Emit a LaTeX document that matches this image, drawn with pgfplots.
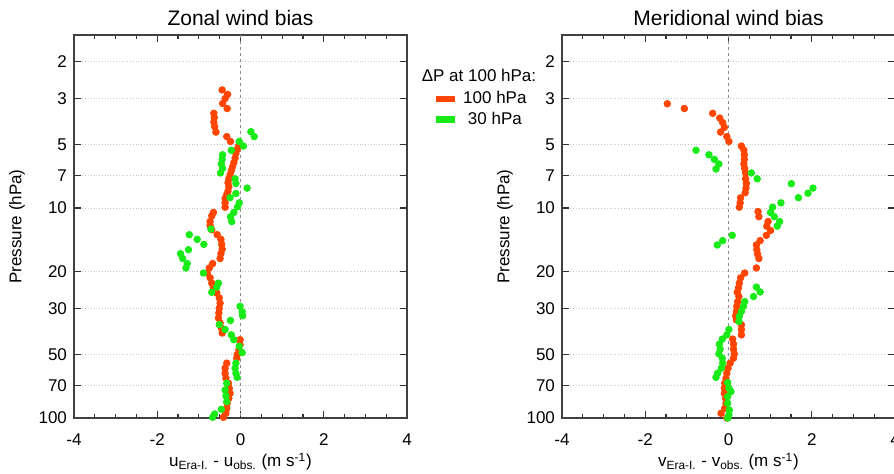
\documentclass[border=0pt]{standalone}
\usepackage{fontspec}
\setmainfont{Liberation Sans}
\usepackage{pgfplots}
\usepackage{pgfplotstable}
\pgfplotsset{compat=1.18}
\definecolor{cred}{RGB}{255,69,0}
\definecolor{cgreen}{RGB}{25,235,25}

\pgfplotstableread{
u P
-0.44 2.74
-0.31 2.88
-0.37 3.01
-0.43 3.18
-0.32 3.36
-0.64 3.54
-0.63 3.71
-0.64 3.90
-0.62 4.10
-0.59 4.35
-0.33 4.57
-0.24 4.82
-0.04 5.03
-0.08 5.26
-0.11 5.49
-0.13 5.79
-0.16 6.08
-0.19 6.36
-0.22 6.64
-0.25 6.94
-0.28 7.26
-0.30 7.58
-0.28 7.92
-0.30 8.31
-0.33 8.62
-0.37 9.01
-0.37 9.45
-0.37 9.91
-0.65 10.5
-0.69 10.9
-0.73 11.6
-0.73 12.1
-0.69 12.7
-0.56 13.4
-0.47 14.1
-0.45 14.9
-0.44 15.7
-0.47 16.5
-0.49 17.4
-0.67 18.4
-0.75 19.3
-0.80 20.4
-0.73 21.5
-0.69 22.8
-0.65 24.0
-0.57 25.4
-0.51 26.8
-0.49 28.4
-0.51 30.0
-0.52 31.6
-0.53 33.4
-0.49 35.3
-0.46 37.3
-0.44 39.4
-0.01 42.4
-0.01 44.8
-0.04 47.4
-0.08 50.0
-0.09 51.9
-0.33 54.8
-0.37 57.9
-0.37 61.2
-0.35 64.6
-0.29 68.3
-0.27 72.1
-0.25 76.2
-0.28 80.5
-0.32 85.1
-0.33 89.9
-0.35 95.0
-0.41 99.2
}\zonalred

\pgfplotstableread{
u P
0.25 4.33
0.33 4.57
-0.03 4.82
0.07 5.07
-0.22 5.31
-0.43 5.58
-0.44 5.87
-0.46 6.17
-0.43 6.48
-0.48 6.81
-0.13 7.26
-0.11 7.64
0.16 8.04
-0.11 8.53
-0.25 8.93
-0.03 9.45
-0.07 9.87
-0.16 10.5
-0.24 11.0
-0.21 11.6
-0.71 12.6
-1.23 13.4
-1.04 14.1
-0.88 14.9
-1.25 15.8
-1.44 16.5
-1.39 17.4
-1.28 18.4
-1.31 19.3
-0.89 20.4
-0.53 22.8
-0.57 23.8
-0.69 25.2
-0.01 29.4
0.04 31.2
0.05 32.6
-0.24 34.3
-0.51 35.9
-0.37 37.9
-0.22 40.2
-0.16 42.4
-0.03 45.6
0.04 48.8
-0.11 54.8
-0.13 57.9
-0.11 61.2
-0.08 64.0
-0.33 68.3
-0.37 73.5
-0.35 78.5
-0.33 83.6
-0.46 90.9
-0.62 95.7
-0.67 99.2
}\zonalgreen

\pgfplotstableread{
v P
-1.47 3.19
-1.06 3.36
-0.38 3.54
-0.21 3.73
-0.14 3.92
-0.10 4.13
-0.19 4.35
-0.04 4.57
0.01 4.82
0.31 5.07
0.37 5.31
0.38 5.58
0.38 5.87
0.37 6.17
0.39 6.48
0.41 6.81
0.41 7.26
0.43 7.64
0.42 8.04
0.40 8.46
0.29 8.95
0.28 9.45
0.26 9.91
0.71 10.4
0.73 11.0
0.95 11.6
0.92 12.2
1.01 12.8
0.91 13.5
0.76 14.3
0.67 15.0
0.68 15.8
0.70 16.6
0.73 17.4
0.67 19.3
0.39 20.4
0.29 21.5
0.26 22.8
0.24 24.0
0.21 25.2
0.25 26.4
0.22 27.9
0.20 29.4
0.19 31.1
0.17 32.6
0.19 34.1
0.31 36.0
0.31 37.9
0.31 40.2
0.10 42.1
0.12 44.5
0.12 47.0
0.14 49.5
0.12 51.9
0.04 54.8
-0.01 57.9
-0.04 61.2
-0.06 64.6
-0.09 68.3
-0.10 72.1
-0.10 76.2
-0.07 80.5
-0.06 85.1
-0.09 89.9
-0.18 95.0
-0.04 100
}\meridred

\pgfplotstableread{
v P
-0.78 5.31
-0.47 5.58
-0.34 5.87
-0.23 6.17
-0.30 6.52
0.55 6.81
0.69 7.26
1.51 7.66
2.03 8.04
1.91 8.50
1.68 8.93
1.26 9.45
1.06 9.91
1.01 10.5
1.10 11.0
1.23 11.6
1.17 12.2
0.09 13.5
-0.14 14.3
-0.27 15.0
0.67 23.8
0.76 25.1
0.60 26.4
0.39 27.9
0.36 29.4
0.31 31.1
0.26 32.8
0.25 34.7
0.01 37.9
-0.04 40.2
-0.15 42.1
-0.22 44.5
-0.20 47.0
-0.23 49.5
-0.15 51.9
-0.14 54.8
-0.17 57.9
-0.26 61.2
-0.30 64.0
-0.02 67.8
0.01 72.1
0.06 74.9
-0.02 79.1
-0.02 85.1
0.02 91.6
0.01 96.8
-0.02 100
}\meridgreen

\begin{document}
\begin{tikzpicture}
\begin{axis}[name=L, at={(0pt,0pt)}, anchor=south west,
    scale only axis, width=166.5pt, height=191.5pt,
    xmin=-4, xmax=4, xtick={-4,-2,0,2,4}, minor x tick num=3,
    ymode=log, y dir=reverse, ymin=1.5, ymax=100,
    ytick={2,3,5,7,10,20,30,50,70,100},
    yticklabels={2,3,5,7,10,20,30,50,70,100},
    ymajorgrids, major grid style={densely dotted, black!22, line width=0.5pt},
    major tick length=3.5pt, minor tick length=2pt,
    every tick/.style={black!80, line width=0.6pt},
    axis line style={black!75, line width=0.7pt},
    tick label style={font=\fontsize{8.5}{10}\selectfont},
    xticklabel style={yshift=-4.5pt},
    label style={font=\fontsize{8.5}{10}\selectfont},
    xlabel style={yshift=3.5pt},
    title style={font=\fontsize{10.5}{12}\selectfont, yshift=-5pt},
    /pgf/number format/assume math mode=true,
    ylabel={Pressure (hPa)},
    title={Zonal wind bias},
    xlabel={u\textsubscript{Era-I.} - u\textsubscript{obs.} (m s\textsuperscript{-1})},
    legend style={at={(1.085,0.864)}, anchor=north west, draw=none, fill=none,
      font=\fontsize{8.5}{10}\selectfont, inner sep=0pt, row sep=-1.5pt,
      cells={anchor=west}, /tikz/every even column/.append style={column sep=2pt}},
]
\addplot[black!45, line width=0.5pt, dash pattern=on 1.5pt off 1.5pt, forget plot] coordinates {(0,1.5) (0,100)};
\addplot[only marks, mark=*, mark size=1.65pt, color=cred, mark options={draw=none, fill=cred},
    legend image code/.code={\fill[cred] (0pt,-1.3pt) rectangle (9pt,1.3pt);}]
    table[x=u, y=P] {\zonalred};
\addlegendentry{~100 hPa}
\addplot[only marks, mark=*, mark size=1.65pt, color=cgreen, mark options={draw=none, fill=cgreen},
    legend image code/.code={\fill[cgreen] (0pt,-1.3pt) rectangle (9pt,1.3pt);}]
    table[x=u, y=P] {\zonalgreen};
\addlegendentry{~~30 hPa}
\end{axis}
\node[font=\fontsize{8.5}{10}\selectfont] at ([shift={(202.5pt,171.5pt)}]L.south west) {ΔP at 100 hPa:};
\begin{axis}[at={(244pt,0pt)}, anchor=south west,
    scale only axis, width=166.5pt, height=191.5pt,
    xmin=-4, xmax=4, xtick={-4,-2,0,2,4}, minor x tick num=3,
    ymode=log, y dir=reverse, ymin=1.5, ymax=100,
    ytick={2,3,5,7,10,20,30,50,70,100},
    yticklabels={2,3,5,7,10,20,30,50,70,100},
    ymajorgrids, major grid style={densely dotted, black!22, line width=0.5pt},
    major tick length=3.5pt, minor tick length=2pt,
    every tick/.style={black!80, line width=0.6pt},
    axis line style={black!75, line width=0.7pt},
    tick label style={font=\fontsize{8.5}{10}\selectfont},
    xticklabel style={yshift=-4.5pt},
    label style={font=\fontsize{8.5}{10}\selectfont},
    xlabel style={yshift=3.5pt},
    title style={font=\fontsize{10.5}{12}\selectfont, yshift=-5pt},
    /pgf/number format/assume math mode=true,
    ylabel={Pressure (hPa)},
    title={Meridional wind bias},
    xlabel={v\textsubscript{Era-I.} - v\textsubscript{obs.} (m s\textsuperscript{-1})},
]
\addplot[black!45, line width=0.5pt, dash pattern=on 1.5pt off 1.5pt, forget plot] coordinates {(0,1.5) (0,100)};
\addplot[only marks, mark=*, mark size=1.65pt, color=cred, mark options={draw=none, fill=cred}]
    table[x=v, y=P] {\meridred};
\addplot[only marks, mark=*, mark size=1.65pt, color=cgreen, mark options={draw=none, fill=cgreen}]
    table[x=v, y=P] {\meridgreen};
\end{axis}
\pgfresetboundingbox
\path[use as bounding box] (-37pt,-28pt) rectangle (410pt,209pt);
\end{tikzpicture}
\end{document}
